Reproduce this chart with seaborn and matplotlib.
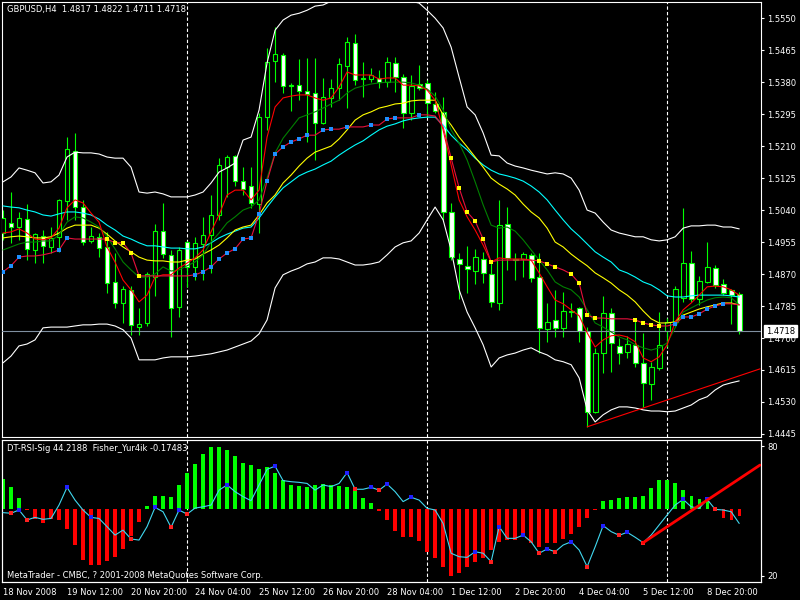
import numpy as np
import matplotlib
matplotlib.use("Agg")
import matplotlib.pyplot as plt
import matplotlib.transforms as mtransforms
import seaborn as sns

# GBPUSD H4 candles, one value per bar
opens = [
    1.4979, 1.5006, 1.4995, 1.5016, 1.4934, 1.4971, 1.4942, 1.4969, 1.5064, 1.5197,
    1.5048, 1.4958, 1.4969, 1.4942, 1.4849, 1.4793, 1.4828, 1.4730, 1.4740, 1.4862,
    1.4985, 1.4921, 1.4783, 1.4955, 1.4889, 1.4950, 1.4974, 1.5027, 1.5154, 1.5184,
    1.5117, 1.5104, 1.5056, 1.5287, 1.5436, 1.5452, 1.5372, 1.5372, 1.5356, 1.5351,
    1.5271, 1.5338, 1.5364, 1.5423, 1.5484, 1.5391, 1.5388, 1.5391, 1.5380, 1.5431,
    1.5394, 1.5298, 1.5375, 1.5378, 1.5322, 1.5301, 1.5035, 1.4910, 1.4892, 1.4878,
    1.4910, 1.4870, 1.4793, 1.5003, 1.4910, 1.4910, 1.4921, 1.4862, 1.4724, 1.4748,
    1.4727, 1.4772, 1.4780, 1.4719, 1.4504, 1.4660, 1.4767, 1.4679, 1.4663, 1.4682,
    1.4634, 1.4578, 1.4621, 1.4719, 1.4743, 1.4807, 1.4900, 1.4804, 1.4849, 1.4886,
    1.4844, 1.4828, 1.4817,
]
highs = [
    1.5040, 1.5088, 1.5035, 1.5056, 1.4979, 1.4987, 1.4995, 1.5069, 1.5234, 1.5245,
    1.5067, 1.4995, 1.4979, 1.4982, 1.4926, 1.4838, 1.4838, 1.4780, 1.4876, 1.5003,
    1.5059, 1.4934, 1.4942, 1.4958, 1.4969, 1.5022, 1.5080, 1.5178, 1.5186, 1.5186,
    1.5154, 1.5154, 1.5298, 1.5471, 1.5526, 1.5457, 1.5378, 1.5441, 1.5444, 1.5444,
    1.5391, 1.5388, 1.5444, 1.5500, 1.5508, 1.5433, 1.5418, 1.5412, 1.5447, 1.5447,
    1.5401, 1.5399, 1.5425, 1.5386, 1.5354, 1.5340, 1.5059, 1.4926, 1.4945, 1.4937,
    1.4929, 1.4900, 1.5067, 1.5048, 1.4926, 1.4929, 1.4926, 1.4926, 1.4793, 1.4828,
    1.4822, 1.4793, 1.4783, 1.4730, 1.4674, 1.4812, 1.4780, 1.4700, 1.4706, 1.4751,
    1.4714, 1.4637, 1.4769, 1.4753, 1.4838, 1.5046, 1.4931, 1.4865, 1.4955, 1.4894,
    1.4857, 1.4830, 1.4822,
]
lows = [
    1.4961, 1.4953, 1.4961, 1.4907, 1.4900, 1.4900, 1.4926, 1.4929, 1.5014, 1.5014,
    1.4947, 1.4953, 1.4915, 1.4820, 1.4780, 1.4740, 1.4708, 1.4708, 1.4732, 1.4812,
    1.4913, 1.4703, 1.4756, 1.4836, 1.4854, 1.4854, 1.4873, 1.5014, 1.5075, 1.5104,
    1.5080, 1.5046, 1.4979, 1.5253, 1.5380, 1.5351, 1.5303, 1.5332, 1.5221, 1.5173,
    1.5268, 1.5314, 1.5332, 1.5311, 1.5372, 1.5340, 1.5380, 1.5364, 1.5367, 1.5354,
    1.5258, 1.5279, 1.5359, 1.5287, 1.5298, 1.5014, 1.4907, 1.4804, 1.4820, 1.4844,
    1.4846, 1.4783, 1.4775, 1.4881, 1.4854, 1.4862, 1.4849, 1.4660, 1.4690, 1.4703,
    1.4703, 1.4756, 1.4690, 1.4464, 1.4501, 1.4607, 1.4610, 1.4631, 1.4647, 1.4623,
    1.4517, 1.4536, 1.4615, 1.4676, 1.4730, 1.4796, 1.4796, 1.4788, 1.4846, 1.4833,
    1.4815, 1.4737, 1.4711,
]
closes = [
    1.5019, 1.4995, 1.5019, 1.4937, 1.4977, 1.4945, 1.4966, 1.5067, 1.5202, 1.5048,
    1.4955, 1.4971, 1.4939, 1.4846, 1.4793, 1.4830, 1.4735, 1.4737, 1.4870, 1.4985,
    1.4923, 1.4780, 1.4934, 1.4889, 1.4953, 1.4974, 1.5027, 1.5160, 1.5181, 1.5117,
    1.5096, 1.5059, 1.5287, 1.5433, 1.5455, 1.5370, 1.5370, 1.5356, 1.5348, 1.5271,
    1.5340, 1.5364, 1.5428, 1.5486, 1.5386, 1.5388, 1.5399, 1.5380, 1.5433, 1.5394,
    1.5298, 1.5370, 1.5364, 1.5324, 1.5303, 1.5035, 1.4915, 1.4897, 1.4884, 1.4915,
    1.4873, 1.4796, 1.5000, 1.4913, 1.4908, 1.4923, 1.4860, 1.4727, 1.4743, 1.4727,
    1.4772, 1.4770, 1.4719, 1.4504, 1.4660, 1.4767, 1.4687, 1.4660, 1.4684, 1.4634,
    1.4581, 1.4623, 1.4682, 1.4743, 1.4830, 1.4900, 1.4804, 1.4852, 1.4889, 1.4841,
    1.4820, 1.4815, 1.4718,
]

# indicator lines on the price chart
upper_band = [
    1.5115, 1.5128, 1.5152, 1.5146, 1.5139, 1.5112, 1.5115, 1.5133, 1.5181, 1.5194,
    1.5192, 1.5192, 1.5189, 1.5181, 1.5178, 1.5178, 1.5154, 1.5088, 1.5085, 1.5088,
    1.5083, 1.5075, 1.5075, 1.5075, 1.5080, 1.5088, 1.5112, 1.5141, 1.5152, 1.5165,
    1.5226, 1.5234, 1.5306, 1.5431, 1.5518, 1.5545, 1.5558, 1.5563, 1.5571, 1.5582,
    1.5585, 1.5595, 1.5605, 1.5612, 1.5616, 1.5618, 1.5618, 1.5616, 1.5612, 1.5606,
    1.5600, 1.5595, 1.5590, 1.5571, 1.5550, 1.5524, 1.5473, 1.5393, 1.5314, 1.5293,
    1.5245, 1.5186, 1.5184, 1.5165, 1.5157, 1.5152, 1.5146, 1.5141, 1.5136, 1.5139,
    1.5136, 1.5125, 1.5093, 1.5040, 1.5032, 1.5008, 1.4987, 1.4979, 1.4974, 1.4969,
    1.4969, 1.4961, 1.4958, 1.4961, 1.4969, 1.4992, 1.4998, 1.4998, 1.5000, 1.5000,
    1.4995, 1.4995, 1.4990,
]
lower_band = [
    1.4634, 1.4652, 1.4679, 1.4684, 1.4695, 1.4727, 1.4729, 1.4729, 1.4729, 1.4732,
    1.4735, 1.4735, 1.4737, 1.4737, 1.4732, 1.4722, 1.4700, 1.4642, 1.4642, 1.4642,
    1.4647, 1.4650, 1.4650, 1.4650, 1.4652, 1.4655, 1.4658, 1.4663, 1.4668, 1.4676,
    1.4684, 1.4692, 1.4711, 1.4748, 1.4833, 1.4868, 1.4878, 1.4886, 1.4897, 1.4902,
    1.4913, 1.4913, 1.4910, 1.4902, 1.4894, 1.4894, 1.4897, 1.4902, 1.4921, 1.4942,
    1.4953, 1.4958, 1.4979, 1.5014, 1.5048, 1.5014, 1.4934, 1.4828, 1.4769, 1.4727,
    1.4682, 1.4623, 1.4647, 1.4655, 1.4660, 1.4668, 1.4674, 1.4663, 1.4655, 1.4642,
    1.4637, 1.4629, 1.4594, 1.4509, 1.4477, 1.4496, 1.4509, 1.4517, 1.4517, 1.4514,
    1.4509, 1.4506, 1.4506, 1.4504, 1.4506, 1.4514, 1.4522, 1.4536, 1.4544, 1.4562,
    1.4575, 1.4581, 1.4586,
]
ma_cyan = [
    1.5051, 1.5048, 1.5046, 1.5040, 1.5035, 1.5027, 1.5024, 1.5030, 1.5035, 1.5035,
    1.5032, 1.5027, 1.5016, 1.5000, 1.4987, 1.4971, 1.4963, 1.4953, 1.4945, 1.4945,
    1.4942, 1.4939, 1.4939, 1.4937, 1.4937, 1.4942, 1.4953, 1.4966, 1.4976, 1.4984,
    1.4992, 1.4995, 1.5019, 1.5048, 1.5075, 1.5099, 1.5115, 1.5131, 1.5141, 1.5149,
    1.5160, 1.5170, 1.5186, 1.5200, 1.5213, 1.5224, 1.5239, 1.5253, 1.5263, 1.5269,
    1.5277, 1.5282, 1.5285, 1.5287, 1.5287, 1.5266, 1.5239, 1.5218, 1.5200, 1.5178,
    1.5160, 1.5146, 1.5136, 1.5131, 1.5125, 1.5117, 1.5104, 1.5088, 1.5067, 1.5040,
    1.5014, 1.4990, 1.4971, 1.4950, 1.4929, 1.4915, 1.4902, 1.4881, 1.4873, 1.4862,
    1.4849, 1.4841, 1.4828, 1.4812, 1.4809, 1.4809, 1.4812, 1.4814, 1.4814, 1.4814,
    1.4814, 1.4812, 1.4809,
]
ma_yellow = [
    1.4966, 1.4969, 1.4971, 1.4969, 1.4966, 1.4966, 1.4969, 1.4979, 1.4992, 1.5000,
    1.5000, 1.5000, 1.4992, 1.4976, 1.4958, 1.4942, 1.4929, 1.4915, 1.4907, 1.4905,
    1.4905, 1.4902, 1.4902, 1.4907, 1.4910, 1.4923, 1.4934, 1.4947, 1.4966, 1.4987,
    1.4995, 1.5000, 1.5027, 1.5059, 1.5080, 1.5112, 1.5133, 1.5157, 1.5178, 1.5194,
    1.5202, 1.5210, 1.5229, 1.5253, 1.5279, 1.5293, 1.5301, 1.5311, 1.5316, 1.5322,
    1.5324, 1.5330, 1.5332, 1.5332, 1.5332, 1.5293, 1.5266, 1.5234, 1.5208, 1.5181,
    1.5154, 1.5125, 1.5109, 1.5096, 1.5080, 1.5056, 1.5035, 1.5019, 1.4992, 1.4955,
    1.4942, 1.4923, 1.4907, 1.4892, 1.4873, 1.4860, 1.4846, 1.4828, 1.4814, 1.4796,
    1.4772, 1.4751, 1.4740, 1.4740, 1.4743, 1.4761, 1.4769, 1.4777, 1.4783, 1.4788,
    1.4793, 1.4793, 1.4788,
]
ma_green = [
    1.4934, 1.4942, 1.4950, 1.4955, 1.4955, 1.4958, 1.4958, 1.4974, 1.5008, 1.5022,
    1.5019, 1.5008, 1.4995, 1.4969, 1.4937, 1.4902, 1.4881, 1.4862, 1.4862, 1.4870,
    1.4889, 1.4878, 1.4881, 1.4892, 1.4902, 1.4921, 1.4955, 1.4979, 1.5006, 1.5022,
    1.5040, 1.5048, 1.5067, 1.5125, 1.5192, 1.5231, 1.5258, 1.5285, 1.5293, 1.5301,
    1.5311, 1.5322, 1.5332, 1.5351, 1.5364, 1.5370, 1.5375, 1.5378, 1.5380, 1.5380,
    1.5380, 1.5378, 1.5372, 1.5362, 1.5343, 1.5306, 1.5253, 1.5218, 1.5173, 1.5115,
    1.5054, 1.5000, 1.4992, 1.4995, 1.4984, 1.4961, 1.4934, 1.4907, 1.4881, 1.4849,
    1.4836, 1.4828, 1.4809, 1.4775, 1.4740, 1.4729, 1.4716, 1.4703, 1.4695, 1.4682,
    1.4674, 1.4668, 1.4674, 1.4687, 1.4727, 1.4769, 1.4780, 1.4791, 1.4801, 1.4807,
    1.4809, 1.4807, 1.4788,
]
ma_red = [
    1.4979, 1.4982, 1.4990, 1.4979, 1.4963, 1.4961, 1.4966, 1.4992, 1.5046, 1.5067,
    1.5059, 1.5032, 1.5008, 1.4942, 1.4902, 1.4854, 1.4828, 1.4796, 1.4814, 1.4862,
    1.4868, 1.4868, 1.4886, 1.4899, 1.4913, 1.4934, 1.4982, 1.5027, 1.5080, 1.5093,
    1.5093, 1.5067, 1.5093, 1.5234, 1.5314, 1.5338, 1.5343, 1.5346, 1.5346, 1.5338,
    1.5332, 1.5338, 1.5367, 1.5407, 1.5399, 1.5399, 1.5399, 1.5388, 1.5391, 1.5391,
    1.5372, 1.5372, 1.5370, 1.5359, 1.5332, 1.5253, 1.5160, 1.5067, 1.5022, 1.4987,
    1.4947, 1.4902, 1.4913, 1.4910, 1.4910, 1.4910, 1.4907, 1.4873, 1.4836, 1.4801,
    1.4791, 1.4775, 1.4759, 1.4714, 1.4676, 1.4695, 1.4706, 1.4708, 1.4703, 1.4690,
    1.4647, 1.4637, 1.4650, 1.4682, 1.4743, 1.4775, 1.4793, 1.4814, 1.4836, 1.4838,
    1.4836, 1.4828, 1.4814,
]
trail_line = [
    1.4876, 1.4892, 1.4915, 1.4918, 1.4918, 1.4921, 1.4926, 1.4934, 1.4966, 1.4963,
    1.4963, 1.4963, 1.4963, 1.4963, 1.4953, 1.4953, 1.4926, 1.4865, 1.4865, 1.4865,
    1.4865, 1.4865, 1.4865, 1.4865, 1.4868, 1.4876, 1.4889, 1.4910, 1.4926, 1.4937,
    1.4963, 1.4966, 1.5030, 1.5117, 1.5189, 1.5208, 1.5221, 1.5229, 1.5239, 1.5239,
    1.5253, 1.5255, 1.5255, 1.5261, 1.5261, 1.5261, 1.5266, 1.5266, 1.5282, 1.5285,
    1.5285, 1.5285, 1.5293, 1.5293, 1.5290, 1.5261, 1.5178, 1.5099, 1.5035, 1.5011,
    1.4963, 1.4902, 1.4907, 1.4907, 1.4907, 1.4907, 1.4907, 1.4905, 1.4897, 1.4889,
    1.4881, 1.4870, 1.4846, 1.4761, 1.4753, 1.4753, 1.4751, 1.4751, 1.4751, 1.4748,
    1.4740, 1.4735, 1.4732, 1.4732, 1.4737, 1.4756, 1.4756, 1.4764, 1.4777, 1.4785,
    1.4791, 1.4791, 1.4788,
]
trail_up_bars = [0, 1, 2, 7, 8, 24, 25, 26, 27, 28, 29, 30, 31, 32, 33, 34, 35, 36, 37,
                 38, 40, 41, 43, 46, 48, 49, 52, 84, 85, 86, 87, 88, 89, 90]
trail_down_bars = [13, 14, 15, 16, 17, 56, 57, 58, 59, 60, 61, 67, 68, 69, 71, 72, 73,
                   74, 79, 80, 81, 82]
trend_main_x = [73, 94.6]
trend_main_y = [1.4464, 1.4618]

# lower window: Fisher_Yur4ik histogram and DT-RSI-Sig line
fisher = [
    0.75, 0.55, 0.275, -0.02, -0.25, -0.35, -0.25, -0.275, -0.5, -0.9,
    -1.275, -1.4, -1.4, -1.3, -1.2, -1.0, -0.675, -0.325, 0.075, 0.325,
    0.325, 0.3, 0.6, 0.9, 1.125, 1.375, 1.55, 1.55, 1.475, 1.325,
    1.15, 1.1, 1.0, 1.05, 0.9, 0.725, 0.6, 0.575, 0.55, 0.6,
    0.625, 0.6, 0.575, 0.55, 0.475, 0.275, 0.15, -0.05, -0.275, -0.55,
    -0.7, -0.7, -0.8, -1.075, -1.225, -1.45, -1.675, -1.6, -1.45, -1.325,
    -1.225, -1.025, -0.825, -0.775, -0.775, -0.675, -0.85, -0.95, -0.85, -0.85,
    -0.75, -0.625, -0.45, -0.225, -0.025, 0.2, 0.225, 0.275, 0.3, 0.3,
    0.325, 0.525, 0.725, 0.725, 0.65, 0.475, 0.325, 0.25, 0.25, -0.05,
    -0.225, -0.275, -0.175,
]
rsi = [
    49.2, 48.9, 50.4, 45.8, 47.0, 46.1, 46.5, 52.7, 60.9, 55.0,
    50.4, 47.0, 46.5, 42.7, 38.8, 41.1, 37.0, 36.5, 42.7, 51.6,
    49.6, 42.4, 50.4, 48.5, 51.3, 51.9, 52.7, 59.6, 62.0, 58.9,
    56.6, 54.7, 62.0, 69.2, 70.7, 64.0, 63.5, 63.2, 62.7, 59.6,
    62.0, 61.2, 62.7, 67.7, 60.0, 60.0, 60.9, 59.6, 62.4, 58.9,
    54.3, 56.3, 55.0, 51.2, 50.4, 44.2, 30.4, 28.8, 28.5, 31.1,
    30.4, 26.5, 42.7, 37.3, 37.3, 38.8, 35.7, 30.4, 32.4, 31.1,
    34.2, 35.7, 31.9, 24.2, 33.4, 43.2, 40.4, 38.7, 40.1, 37.8,
    35.3, 38.8, 43.5, 48.1, 52.7, 55.3, 51.9, 51.2, 55.3, 50.7,
    50.4, 49.6, 44.2,
]
rsi_peak_bars = [2, 8, 11, 19, 22, 28, 34, 43, 46, 48, 51, 59, 62, 65, 68, 71, 75, 78, 85, 88]
rsi_trough_bars = [1, 3, 16, 21, 23, 44, 47, 61, 67, 69, 73, 77, 80, 89]
trend_sub_x = [80, 94.6]
trend_sub_y = [35.3, 71.2]

date_tick_bars = [0, 8, 16, 24, 32, 40, 48, 56, 64, 72, 80, 88]
date_labels = ["18 Nov 2008", "19 Nov 12:00", "20 Nov 20:00", "24 Nov 04:00",
               "25 Nov 12:00", "26 Nov 20:00", "28 Nov 04:00", "1 Dec 12:00",
               "2 Dec 20:00", "4 Dec 04:00", "5 Dec 12:00", "8 Dec 20:00"]
week_start_bars = [23, 53, 83]
price_ticks = [1.4445 + 0.0085 * k for k in range(14)]

sns.set_style("dark", {"axes.facecolor": "black", "figure.facecolor": "black",
                       "axes.edgecolor": "white", "text.color": "white",
                       "xtick.color": "white", "ytick.color": "white"})
plt.rcParams["font.family"] = ["DejaVu Sans"]
plt.rcParams["font.size"] = 6

CANDLE = "#00ff00"
bars = np.arange(len(closes))
o = np.array(opens)
c = np.array(closes)

fig = plt.figure(figsize=(8, 6), dpi=100)
ax = fig.add_axes([0.0025, 0.2717, 0.949, 0.725])
axs = fig.add_axes([0.0025, 0.03, 0.949, 0.2367])
axr = axs.twinx()

for a in (ax, axs, axr):
    a.set_xlim(-0.125, 94.75)
    for sp in a.spines.values():
        sp.set_color("white")
        sp.set_linewidth(0.8)

# week separators
for b in week_start_bars:
    for a in (ax, axs):
        a.axvline(b, color="white", lw=0.8, ls=(0, (3, 2)), zorder=1)

# candles
ax.vlines(bars, lows, highs, color=CANDLE, lw=0.8, zorder=2)
body_colors = np.where(c >= o, "black", "white")
ax.bar(bars, np.abs(c - o), bottom=np.minimum(o, c), width=0.6,
       color=body_colors, edgecolor=CANDLE, linewidth=0.8, zorder=3)

# overlay lines
for vals, col in [(upper_band, "white"), (lower_band, "white"),
                  (ma_cyan, "#00ffff"), (ma_yellow, "#ffff00"),
                  (ma_green, "#008000"), (ma_red, "#ff0000"),
                  (trail_line, "#e8103c")]:
    sns.lineplot(x=bars, y=vals, color=col, linewidth=0.8, ax=ax, zorder=4)

sns.scatterplot(x=trail_up_bars, y=[trail_line[i] for i in trail_up_bars],
                marker="s", s=5, color="#1e90ff", linewidth=0, ax=ax, zorder=5)
sns.scatterplot(x=trail_down_bars, y=[trail_line[i] for i in trail_down_bars],
                marker="s", s=5, color="#ffff00", linewidth=0, ax=ax, zorder=5)
sns.lineplot(x=trend_main_x, y=trend_main_y, color="#ff0000", linewidth=0.8, ax=ax, zorder=4)

ax.axhline(closes[-1], color="#7f8fa0", lw=0.8, zorder=3.5)

ax.set_ylim(1.4437, 1.5593)
ax.set_xticks([])
ax.yaxis.tick_right()
ax.set_yticks(price_ticks)
ax.set_yticklabels([f"{p:.4f}" for p in price_ticks])
ax.tick_params(axis="y", colors="white", length=2.5, width=0.8, pad=2, labelsize=6)
ax.set_xlabel("")
ax.set_ylabel("")

blend = mtransforms.blended_transform_factory(ax.transAxes, ax.transData)
ax.text(1.006, closes[-1], f"{closes[-1]:.4f}", transform=blend, color="black",
        fontsize=6, ha="left", va="center", zorder=10, clip_on=False,
        bbox=dict(boxstyle="square,pad=0.2", fc="white", ec="white"))
ax.text(0.0066, 0.982,
        f"GBPUSD,H4  {opens[-1]:.4f} {highs[-1]:.4f} {lows[-1]:.4f} {closes[-1]:.4f}",
        transform=ax.transAxes, color="white", fontsize=6, ha="left", va="center")

# lower window
hist_colors = ["#00ff00" if v > 0 else "#ff0000" for v in fisher]
axs.bar(bars, fisher, width=0.42, color=hist_colors, linewidth=0, zorder=2)
axs.set_ylim(-1.825, 1.725)
axs.set_yticks([])

sns.lineplot(x=bars, y=rsi, color="#40d8f0", linewidth=0.8, ax=axr, zorder=3)
sns.scatterplot(x=rsi_peak_bars, y=[rsi[i] for i in rsi_peak_bars], marker="s", s=5,
                color="#2020ff", linewidth=0, ax=axr, zorder=4)
sns.scatterplot(x=rsi_trough_bars, y=[rsi[i] for i in rsi_trough_bars], marker="s", s=5,
                color="#ff2020", linewidth=0, ax=axr, zorder=4)
sns.lineplot(x=trend_sub_x, y=trend_sub_y, color="#ff0000", linewidth=2, ax=axr, zorder=5)
axr.set_ylim(17.1, 82.8)
axr.set_yticks([20, 80])
axr.tick_params(axis="y", colors="white", length=2.5, width=0.8, pad=2, labelsize=6)
axr.set_ylabel("")

axs.set_xticks(date_tick_bars)
axs.set_xticklabels(date_labels, ha="left")
axs.tick_params(axis="x", colors="white", length=2.5, width=0.8, pad=1.5, labelsize=6)

axs.text(0.0066, 0.937, "DT-RSI-Sig 44.2188  Fisher_Yur4ik -0.17483",
         transform=axs.transAxes, color="white", fontsize=6, ha="left", va="center")
axs.text(0.0066, 0.049, "MetaTrader - CMBC, ? 2001-2008 MetaQuotes Software Corp.",
         transform=axs.transAxes, color="white", fontsize=6, ha="left", va="center")

fig.savefig("out.png", dpi=100, facecolor="black")
